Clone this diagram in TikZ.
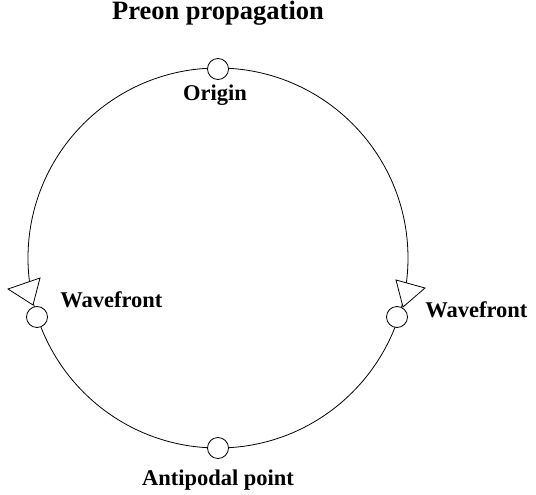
\documentclass[tikz,border=0pt]{standalone}
\usepackage{fontspec}
\setmainfont{Liberation Serif}
\usepackage{tikz}
\usetikzlibrary{positioning}

\begin{document}
\begin{tikzpicture}[
  x=1pt, y=-1pt,
  line width=0.8pt,
  marker/.style={draw, circle, fill=white, minimum size=21pt, inner sep=0pt},
  head/.style={draw, fill=white, line join=miter},
  lbl/.style={font=\fontsize{22.5}{25}\selectfont\bfseries, inner sep=0pt},
  ttl/.style={font=\fontsize{26.5}{30}\selectfont\bfseries, inner sep=0pt}
]
\useasboundingbox (0,0) rectangle (536,495);

% ---------- Propagation circle ----------
\coordinate (ctr) at (218,258);
\draw (ctr) circle[radius=190pt];

% ---------- Wavefront heads ----------
\draw[head] (8,289) -- (40,278) -- (33,305) -- cycle;
\draw[head] (396,280) -- (425,288) -- (403,307) -- cycle;

% ---------- Points on the circle ----------
\node[marker] (orig) at (218,69) {};
\node[marker] (anti) at (218,448) {};
\node[marker] (wfl) at (37,317) {};
\node[marker] (wfr) at (397,317) {};

% ---------- Labels ----------
\node[ttl, anchor=base] (title) at (218,20) {Preon propagation};
\node[lbl, anchor=base] (origtxt) at (215,100) {Origin};
\node[lbl, anchor=base] (antitxt) at (218,485) {Antipodal point};
\node[lbl, anchor=base west] (wfltxt) at (60,307) {Wavefront};
\node[lbl, anchor=base west] (wfrtxt) at (425,317) {Wavefront};

\end{tikzpicture}
\end{document}
